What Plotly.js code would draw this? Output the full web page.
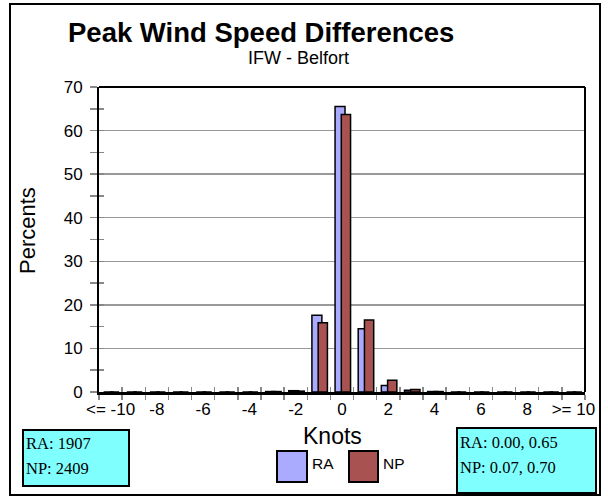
<!DOCTYPE html>
<html>
<head>
<meta charset="utf-8">
<script src="https://cdn.plot.ly/plotly-3.0.1.min.js"></script>
<style>html,body{margin:0;padding:0;background:#fff;}#chart{width:608px;height:497px;}</style>
</head>
<body>
<div id="chart"></div>
<script>
// ---- data ----
const categories = ["<= -10","-9","-8","-7","-6","-5","-4","-3","-2","-1","0","1","2","3","4","5","6","7","8","9",">= 10"];
const tickLabels = ["<= -10","","-8","","-6","","-4","","-2","","0","","2","","4","","6","","8","",">= 10"];
const raValues = [0,0,0,0,0,0,0,0.1,0.3,17.6,65.5,14.5,1.5,0.4,0.1,0,0,0,0,0,0];
const npValues = [0,0,0,0,0,0,0,0.1,0.2,15.9,63.7,16.5,2.7,0.6,0.1,0,0,0,0,0,0];
const seriesNames = ["RA","NP"];
const countText = ["RA: 1907","NP: 2409"];
const statText = ["RA: 0.00, 0.65","NP: 0.07, 0.70"];
const yTicks = [0,10,20,30,40,50,60,70];

const RA_COLOR = "#aaaaff";
const NP_COLOR = "#a85252";
const CYAN = "#80ffff";

// pixel -> paper helpers (plot area: x 99..585, y 87..392)
const L = 99, R = 23, T = 87, B = 105, W = 608, H = 497;
const pw = W - L - R, ph = H - T - B;
const X = px => (px - L) / pw;
const Y = py => 1 - (py - T) / ph;

const traces = [
  {type:"bar", name:seriesNames[0], x:categories, y:raValues, width:0.43, offset:-0.3,
   marker:{color:RA_COLOR, line:{color:"#000", width:1.5}}, showlegend:false},
  {type:"bar", name:seriesNames[1], x:categories, y:npValues, width:0.4, offset:-0.03,
   marker:{color:NP_COLOR, line:{color:"#000", width:1.5}}, showlegend:false},
  {type:"scatter", x:categories, y:categories.map(()=>null), xaxis:"x2", yaxis:"y2",
   hoverinfo:"skip", showlegend:false}
];

const font = {family:"Arial, Liberation Sans, sans-serif", color:"#000"};
const serif = {family:"Liberation Serif, Times New Roman, serif", size:16.5, color:"#000"};

const shapes = [
  // outer frame
  {type:"rect", xref:"paper", yref:"paper", x0:X(10), x1:X(600), y0:Y(495), y1:Y(4),
   line:{color:"#000", width:2}, fillcolor:"rgba(0,0,0,0)", layer:"below"},
  // left info box
  {type:"rect", xref:"paper", yref:"paper", x0:X(23), x1:X(129), y0:Y(486), y1:Y(430),
   line:{color:"#000", width:2}, fillcolor:CYAN},
  // right info box
  {type:"rect", xref:"paper", yref:"paper", x0:X(457), x1:X(596), y0:Y(493), y1:Y(428),
   line:{color:"#000", width:2}, fillcolor:CYAN},
  // legend swatches
  {type:"rect", xref:"paper", yref:"paper", x0:X(277), x1:X(307), y0:Y(482), y1:Y(451),
   line:{color:"#000", width:2}, fillcolor:RA_COLOR},
  {type:"rect", xref:"paper", yref:"paper", x0:X(349), x1:X(378), y0:Y(482), y1:Y(451),
   line:{color:"#000", width:2}, fillcolor:NP_COLOR}
];

const annotations = [
  {text:"<b>Peak Wind Speed Differences</b>", xref:"paper", yref:"paper", x:X(261), y:Y(33),
   showarrow:false, font:Object.assign({size:27.5}, font), xanchor:"center", yanchor:"middle"},
  {text:"IFW - Belfort", xref:"paper", yref:"paper", x:X(298), y:Y(58),
   showarrow:false, font:Object.assign({size:18}, font), xanchor:"center", yanchor:"middle"},
  {text:"Percents", xref:"paper", yref:"paper", x:X(27), y:Y(231), textangle:-90,
   showarrow:false, font:Object.assign({size:22}, font), xanchor:"center", yanchor:"middle"},
  {text:"Knots", xref:"paper", yref:"paper", x:X(332), y:Y(436),
   showarrow:false, font:Object.assign({size:23}, font), xanchor:"center", yanchor:"middle"},
  {text:seriesNames[0], xref:"paper", yref:"paper", x:X(310), y:Y(463),
   showarrow:false, font:Object.assign({size:15.5}, font), xanchor:"left", yanchor:"middle"},
  {text:seriesNames[1], xref:"paper", yref:"paper", x:X(381), y:Y(463),
   showarrow:false, font:Object.assign({size:15.5}, font), xanchor:"left", yanchor:"middle"},
  {text:countText[0], xref:"paper", yref:"paper", x:X(24), y:Y(443),
   showarrow:false, font:serif, xanchor:"left", yanchor:"middle"},
  {text:countText[1], xref:"paper", yref:"paper", x:X(24), y:Y(468),
   showarrow:false, font:serif, xanchor:"left", yanchor:"middle"},
  {text:statText[0], xref:"paper", yref:"paper", x:X(458), y:Y(442),
   showarrow:false, font:serif, xanchor:"left", yanchor:"middle"},
  {text:statText[1], xref:"paper", yref:"paper", x:X(458), y:Y(467),
   showarrow:false, font:serif, xanchor:"left", yanchor:"middle"}
];

const layout = {
  width:W, height:H,
  margin:{l:L, r:R, t:T, b:B, pad:0},
  paper_bgcolor:"#fff", plot_bgcolor:"#fff",
  barmode:"overlay",
  showlegend:false,
  font:Object.assign({size:17}, font),
  xaxis:{
    type:"category", categoryorder:"array", categoryarray:categories,
    range:[-0.5, categories.length-0.5],
    tickmode:"array", tickvals:categories, ticktext:tickLabels, tickangle:0,
    tickson:"boundaries", ticks:"outside", ticklen:5, tickwidth:1.5, tickcolor:"#888",
    showline:true, linecolor:"#000", linewidth:3, mirror:false,
    showgrid:false, zeroline:false, automargin:false,
    tickfont:Object.assign({size:17}, font), fixedrange:true
  },
  xaxis2:{
    type:"category", categoryorder:"array", categoryarray:categories,
    range:[-0.5, categories.length-0.5], overlaying:"x", anchor:"y",
    tickmode:"array", tickvals:categories, ticktext:categories.map(()=>""),
    tickson:"boundaries", ticks:"inside", ticklen:5, tickwidth:1.5, tickcolor:"#888",
    showticklabels:false, showline:false, showgrid:false, zeroline:false
  },
  yaxis:{
    range:[0,70], tickmode:"array", tickvals:yTicks,
    ticks:"outside", ticklen:7, tickwidth:1.5, tickcolor:"#888",
    minor:{dtick:5, ticks:"outside", ticklen:7, tickwidth:1.5, tickcolor:"#888", showgrid:false},
    showgrid:true, gridcolor:"#999", gridwidth:1.5,
    showline:true, linecolor:"#000", linewidth:2, mirror:false,
    zeroline:false, automargin:false, tickfont:Object.assign({size:17}, font), ticklabelstandoff:4
  },
  yaxis2:{
    range:[0,70], overlaying:"y", anchor:"x", side:"left",
    tickmode:"linear", tick0:0, dtick:5,
    ticks:"inside", ticklen:5, tickwidth:1.5, tickcolor:"#888",
    showticklabels:false, showgrid:false, showline:false, zeroline:false
  },
  shapes:shapes.concat([
    {type:"line", xref:"paper", yref:"paper", x0:0, x1:1, y0:1, y1:1, line:{color:"#000", width:2}},
    {type:"line", xref:"paper", yref:"paper", x0:1, x1:1, y0:0, y1:1, line:{color:"#000", width:2}}
  ]),
  annotations:annotations
};

Plotly.newPlot("chart", traces, layout, {displayModeBar:false, staticPlot:true});
</script>
</body>
</html>
